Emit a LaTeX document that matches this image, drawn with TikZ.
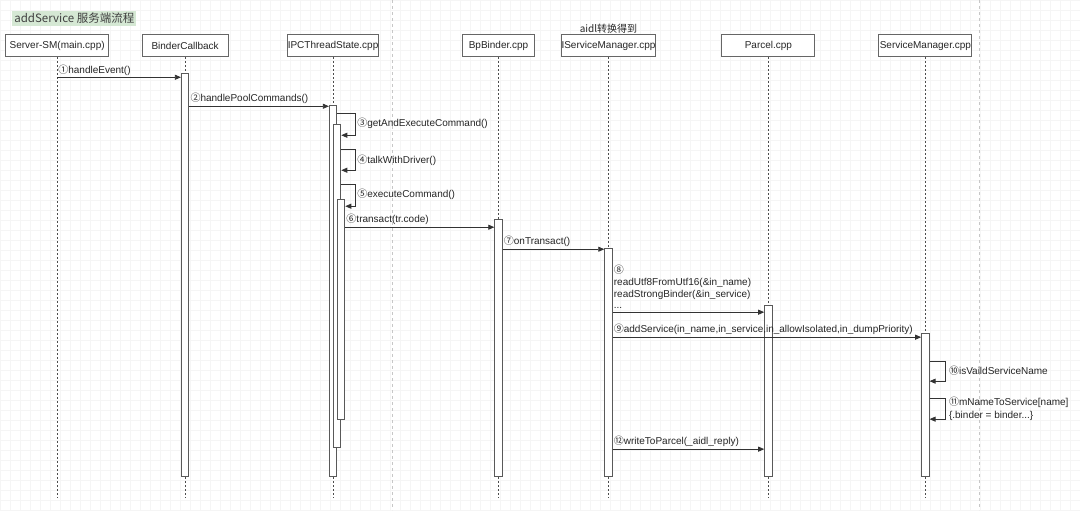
\documentclass[tikz,border=0pt]{standalone}
\usepackage{fontspec}
\setmainfont{Liberation Sans}
\newfontfamily\cjk{Noto Sans CJK SC}
\usepackage{tikz}
\usetikzlibrary{positioning, arrows.meta}
\definecolor{titleGreen}{RGB}{213,232,212}
\newcommand{\cnum}[1]{{\cjk #1}}

\begin{document}
\begin{tikzpicture}[
        x=1pt, y=-1pt,
        font=\fontsize{10}{12}\selectfont,
        headNode/.style={draw=black!60, fill=white, line width=0.9pt, minimum height=22pt, inner xsep=0pt, inner ysep=0pt, text=black!85},
        actNode/.style={draw=black!65, fill=white, line width=0.9pt, minimum width=7.5pt, inner sep=0pt, anchor=north},
        lifeline/.style={draw=black!70, dash pattern=on 2pt off 2pt, line width=0.7pt},
        pageLine/.style={draw=black!22, dash pattern=on 3pt off 3pt, line width=0.6pt},
        msg/.style={-{Triangle[length=6pt, width=5pt]}, draw=black!80, line width=0.8pt},
        msgLabel/.style={anchor=south west, inner sep=1pt, text=black!85},
        loopLabel/.style={anchor=west, inner sep=1pt, text=black!85, align=left}
    ]
        % Background
        \fill[white] (0,0) rectangle (1080,510);
        \draw[black!4, line width=0.4pt, step=10pt] (0,0) grid (1080,510);
        \draw[pageLine] (392,0) -- (392,510);
        \draw[pageLine] (979,0) -- (979,510);
        \useasboundingbox (0,0) rectangle (1080,510);

        % Nodes
        \node[fill=titleGreen, text=black!75, font=\cjk\fontsize{11.5}{13}\selectfont, inner sep=2pt, anchor=west] (title) at (12,18) {addService 服务端流程};

        \node[headNode, minimum width=103] (serverSM) at (57,45.5) {Server-SM(main.cpp)};
        \node[headNode, minimum width=86] (binderCb) at (185,45.5) {BinderCallback};
        \node[headNode, minimum width=87] (ipcTs) at (333,45.5) {IPCThreadState.cpp};
        \node[headNode, minimum width=72] (bpBinder) at (498.5,45.5) {BpBinder.cpp};
        \node[headNode, minimum width=93] (ism) at (608.5,45.5) {IServiceManager.cpp};
        \node[headNode, minimum width=93] (parcel) at (768.5,45.5) {Parcel.cpp};
        \node[headNode, minimum width=93] (sm) at (925.5,45.5) {ServiceManager.cpp};
        \node[above=0pt of ism, inner sep=1pt, font=\cjk\fontsize{10}{12}\selectfont, text=black!85] (aidlNote) {aidl转换得到};

        % Lifelines
        \foreach \n in {serverSM, binderCb, ipcTs, bpBinder, ism, parcel, sm}
            \draw[lifeline] (\n.south) -- (\n.south |- 0,497);

        % Activations
        \node[actNode, minimum height=403] (cbAct) at (185,73) {};
        \node[actNode, minimum height=371] (ipcAct1) at (333,105) {};
        \node[actNode, minimum height=323] (ipcAct2) at (337,124) {};
        \node[actNode, minimum height=220] (ipcAct3) at (341,199) {};
        \node[actNode, minimum height=257] (bpAct) at (498.5,219) {};
        \node[actNode, minimum height=228] (ismAct) at (608.5,248) {};
        \node[actNode, minimum height=171] (parAct) at (768.5,305) {};
        \node[actNode, minimum height=143] (smAct) at (925.5,333) {};

        % Arrows
        \draw[msg] (serverSM.south |- 0,77) -- (cbAct.west |- 0,77);
        \draw[msg] (cbAct.east |- 0,106) -- (ipcAct1.west |- 0,106);
        \draw[msg] (ipcAct1.east |- 0,113) -- (355,113) |- (ipcAct2.east |- 0,135);
        \draw[msg] (ipcAct2.east |- 0,149) -- (355,149) |- (ipcAct2.east |- 0,170);
        \draw[msg] (ipcAct2.east |- 0,184) -- (355,184) |- (ipcAct3.east |- 0,206);
        \draw[msg] (ipcAct3.east |- 0,227) -- (bpAct.west |- 0,227);
        \draw[msg] (bpAct.east |- 0,249) -- (ismAct.west |- 0,249);
        \draw[msg] (ismAct.east |- 0,312) -- (parAct.west |- 0,312);
        \draw[msg] (ismAct.east |- 0,337) -- (smAct.west |- 0,337);
        \draw[msg] (smAct.east |- 0,361) -- (946,361) |- (smAct.east |- 0,381);
        \draw[msg] (smAct.east |- 0,398) -- (946,398) |- (smAct.east |- 0,419);
        \draw[msg] (ismAct.east |- 0,449) -- (parAct.west |- 0,449);

        % Labels
        \node[msgLabel] (m1) at (serverSM.south |- 0,76) {\cnum{①}handleEvent()};
        \node[msgLabel] (m2) at (cbAct.east |- 0,105) {\cnum{②}handlePoolCommands()};
        \node[loopLabel] (m3) at (356,123) {\cnum{③}getAndExecuteCommand()};
        \node[loopLabel] (m4) at (356,160) {\cnum{④}talkWithDriver()};
        \node[loopLabel] (m5) at (356,194) {\cnum{⑤}executeCommand()};
        \node[msgLabel] (m6) at (ipcAct3.east |- 0,226) {\cnum{⑥}transact(tr.code)};
        \node[msgLabel] (m7) at (bpAct.east |- 0,248) {\cnum{⑦}onTransact()};
        \node[msgLabel, align=left, font=\fontsize{10}{11.7}\selectfont] (m8) at (ismAct.east |- 0,310)
            {\cnum{⑧}\\readUtf8FromUtf16(\&in\_name)\\readStrongBinder(\&in\_service)\\...};
        \node[msgLabel] (m9) at (ismAct.east |- 0,336) {\cnum{⑨}addService(in\_name,in\_service,in\_allowIsolated,in\_dumpPriority)};
        \node[loopLabel] (m10) at (948,371) {\cnum{⑩}isVaildServiceName};
        \node[loopLabel, font=\fontsize{10}{12.5}\selectfont] (m11) at (948,408.5) {\cnum{⑪}mNameToService[name]\\\{.binder = binder...\}};
        \node[msgLabel] (m12) at (ismAct.east |- 0,448) {\cnum{⑫}writeToParcel(\_aidl\_reply)};
    \end{tikzpicture}
\end{document}
